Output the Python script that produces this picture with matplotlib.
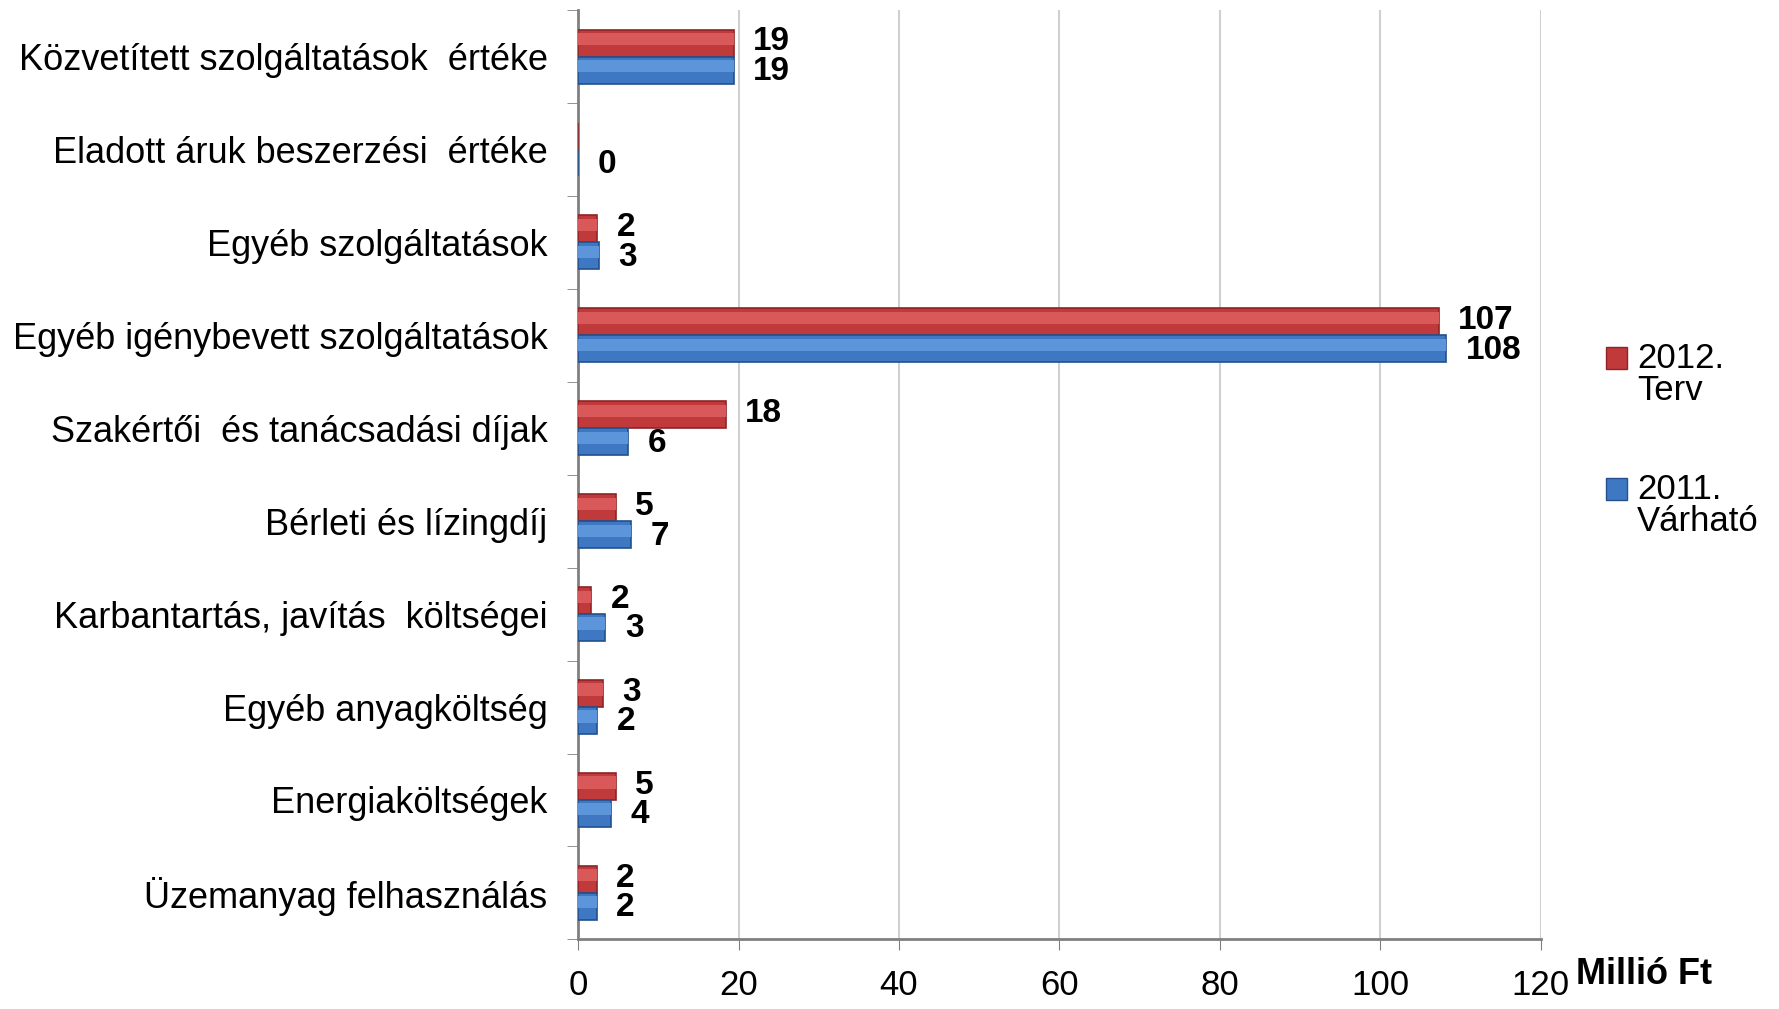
import matplotlib.pyplot as plt
import matplotlib.patches as mpatches
from matplotlib.legend_handler import HandlerPatch
import numpy as np

plt.rcParams['font.family'] = ['Liberation Sans', 'DejaVu Sans']

categories = [
    "Közvetített szolgáltatások  értéke",
    "Eladott áruk beszerzési  értéke",
    "Egyéb szolgáltatások",
    "Egyéb igénybevett szolgáltatások",
    "Szakértői  és tanácsadási díjak",
    "Bérleti és lízingdíj",
    "Karbantartás, javítás  költségei",
    "Egyéb anyagköltség",
    "Energiaköltségek",
    "Üzemanyag felhasználás",
]
terv_2012 = [19.4, 0, 2.4, 107.3, 18.4, 4.7, 1.6, 3.1, 4.7, 2.3]
varhato_2011 = [19.4, 0, 2.6, 108.2, 6.2, 6.6, 3.4, 2.4, 4.1, 2.3]
series_names = ["2012.\nTerv", "2011.\nVárható"]

red = "#C0393B"
red_dark = "#8E2426"
blue = "#3F78C2"
blue_dark = "#23508C"

fig = plt.figure(figsize=(17.79, 10.09), dpi=100)
ax = fig.add_axes([0.325, 0.069, 0.541, 0.921])

y = np.arange(len(categories))
h = 0.29

ax.barh(y - h / 2, terv_2012, height=h, color=red, edgecolor=red_dark,
        linewidth=1.2, zorder=3)
ax.barh(y + h / 2, varhato_2011, height=h, color=blue, edgecolor=blue_dark,
        linewidth=1.2, zorder=3)
# lighter upper part of the bars (fake 3D look)
ax.barh(y - h / 2 - h * 0.15, terv_2012, height=h * 0.45, color="#D9585A",
        linewidth=0, zorder=4)
ax.barh(y + h / 2 - h * 0.15, varhato_2011, height=h * 0.45, color="#5C95DA",
        linewidth=0, zorder=4)

for i in range(len(categories)):
    # the red zero label is hidden behind the blue one in the original
    if terv_2012[i] != 0:
        ax.annotate(str(int(round(terv_2012[i]))), (terv_2012[i], y[i] - h / 2),
                    xytext=(14, 1), textcoords="offset points", va="center",
                    ha="left", fontsize=24, fontweight="bold")
    ax.annotate(str(int(round(varhato_2011[i]))), (varhato_2011[i], y[i] + h / 2),
                xytext=(14, -1), textcoords="offset points", va="center",
                ha="left", fontsize=24, fontweight="bold")

ax.set_xlim(0, 120)
ax.set_ylim(len(categories) - 0.5, -0.5)
ax.set_xticks(np.arange(0, 121, 20))
ax.tick_params(axis="x", labelsize=25, length=8, color="#808080", pad=13)
ax.set_yticks(y)
ax.set_yticklabels(categories)
ax.tick_params(axis="y", which="major", length=0, labelsize=26, pad=22)
ax.set_yticks(np.arange(-0.5, len(categories), 1), minor=True)
ax.tick_params(axis="y", which="minor", length=8, color="#808080")

ax.grid(axis="x", color="#D0D0D0", linewidth=1.5, zorder=0)
for s in ["top", "right"]:
    ax.spines[s].set_visible(False)
for s in ["left", "bottom"]:
    ax.spines[s].set_color("#808080")
    ax.spines[s].set_linewidth(2)

fig.text(0.886, 0.034, "Millió Ft", fontsize=26, fontweight="bold",
         ha="left", va="center")


def square_top(legend, orig_handle, xdescent, ydescent, width, height, fontsize):
    return mpatches.Rectangle((-xdescent, -ydescent + 0.5 * fontsize), width, height)


handles = [mpatches.Patch(facecolor=red, edgecolor=red_dark),
           mpatches.Patch(facecolor=blue, edgecolor=blue_dark)]
leg = ax.legend(handles, series_names, loc="upper left", bbox_to_anchor=(0.893, 0.678),
                bbox_transform=fig.transFigure, frameon=False, fontsize=25,
                handlelength=0.6, handleheight=0.6, handletextpad=0.3,
                labelspacing=1.9, borderpad=0,
                handler_map={mpatches.Patch: HandlerPatch(patch_func=square_top)})
for t in leg.get_texts():
    t.set_linespacing(0.95)

fig.savefig("out.png", dpi=100)
